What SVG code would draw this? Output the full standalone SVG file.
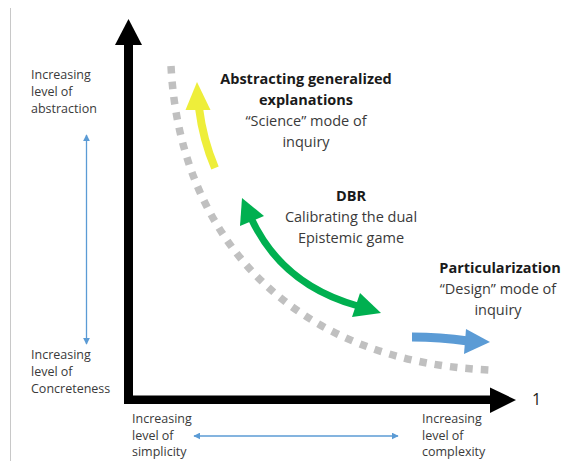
<svg xmlns="http://www.w3.org/2000/svg" width="568" height="461" viewBox="0 0 568 461">
<style>
.t{font-family:"Open Sans","Liberation Sans",sans-serif;fill:#3a3a3a}
.s{font-size:12.5px}
.m{font-size:14.5px;text-anchor:middle}
.b{font-weight:bold;fill:#1a1a1a}
.thin{stroke:#5b9bd5;stroke-width:1.3;fill:none}
</style>
<defs>
<marker id="tb" viewBox="0 0 10 10" refX="9" refY="5" markerWidth="7" markerHeight="7" orient="auto-start-reverse" markerUnits="userSpaceOnUse">
<path d="M0,0 L10,5 L0,10 Z" fill="#5b9bd5"/>
</marker>
</defs>
<rect width="568" height="461" fill="#fff"/>
<line x1="10.5" y1="8" x2="10.5" y2="461" stroke="#c8c8c8" stroke-width="1"/>
<g id="axes">
<rect x="124" y="40" width="9" height="364" fill="#000"/>
<polygon points="128.5,19 142,45 115,45" fill="#000"/>
<rect x="124" y="395.5" width="370" height="8.5" fill="#000"/>
<polygon points="516,400 490,387.5 490,413" fill="#000"/>
<text class="t" x="532" y="405" style="font-size:16px;fill:#222">1</text>
</g>
<g id="connectors">
<path d="M171,66 C180,240 295,362 490,370" fill="none" stroke="#c0c0c0" stroke-width="7.5" stroke-dasharray="7.5 8"/>
<line class="thin" x1="86.5" y1="135" x2="86.5" y2="344" marker-start="url(#tb)" marker-end="url(#tb)"/>
<line class="thin" x1="194" y1="436" x2="398" y2="436" marker-start="url(#tb)" marker-end="url(#tb)"/>
<g id="yellow-arrow">
<path d="M215,168 Q203,140 199,108" fill="none" stroke="#eeee3a" stroke-width="8"/>
<polygon points="197,82 210.5,110 185.5,110" fill="#eeee3a"/>
</g>
<g id="green-arrow">
<path d="M251,218 Q282,285 358,306" fill="none" stroke="#00b050" stroke-width="7"/>
<polygon points="242,198 264,216 240,226" fill="#00b050"/>
<polygon points="381,313 360,293 352,317" fill="#00b050"/>
</g>
<g id="blue-arrow">
<path d="M412,337 Q440,337 468,341" fill="none" stroke="#5b9bd5" stroke-width="9"/>
<polygon points="490,342 466,329 464,354" fill="#5b9bd5"/>
</g>
</g>
<g id="label-abstraction">
<text class="t s" x="31" y="79">Increasing</text>
<text class="t s" x="31" y="96">level of</text>
<text class="t s" x="31" y="113">abstraction</text>
</g>
<g id="label-concreteness">
<text class="t s" x="31" y="359">Increasing</text>
<text class="t s" x="31" y="376">level of</text>
<text class="t s" x="31" y="393">Concreteness</text>
</g>
<g id="label-simplicity">
<text class="t s" x="132" y="423">Increasing</text>
<text class="t s" x="132" y="440">level of</text>
<text class="t s" x="132" y="456">simplicity</text>
</g>
<g id="label-complexity">
<text class="t s" x="422" y="423">Increasing</text>
<text class="t s" x="422" y="440">level of</text>
<text class="t s" x="422" y="456">complexity</text>
</g>
<g id="node-science">
<text class="t m b" x="306" y="84">Abstracting generalized</text>
<text class="t m b" x="306" y="105">explanations</text>
<text class="t m" x="306" y="126">“Science” mode of</text>
<text class="t m" x="306" y="147">inquiry</text>
</g>
<g id="node-dbr">
<text class="t m b" x="351" y="201">DBR</text>
<text class="t m" x="351" y="222">Calibrating the dual</text>
<text class="t m" x="351" y="243">Epistemic game</text>
</g>
<g id="node-design">
<text class="t m b" x="500" y="273">Particularization</text>
<text class="t m" x="498" y="294">“Design” mode of</text>
<text class="t m" x="498" y="315">inquiry</text>
</g>
</svg>
